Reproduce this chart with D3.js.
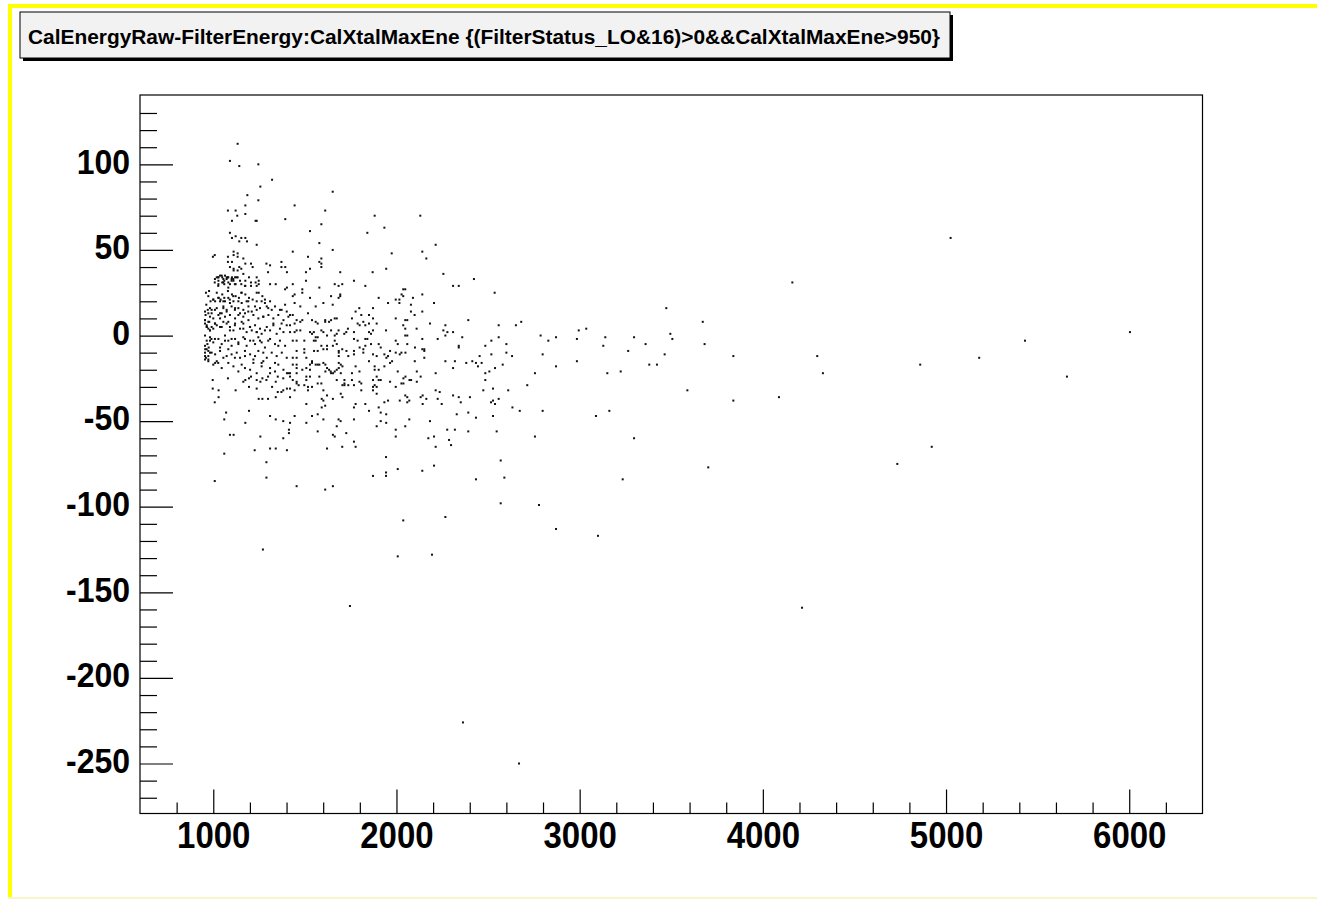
<!DOCTYPE html>
<html>
<head>
<meta charset="utf-8">
<script src="https://cdn.jsdelivr.net/npm/d3@7"></script>
<style>
  body { margin: 0; background: #fff; }
  svg text { font-family: "Liberation Sans", Arial, Helvetica, sans-serif; font-weight: bold; }
</style>
</head>
<body>
<div id="chart"></div>
<script>
// CalEnergyRaw-FilterEnergy vs CalXtalMaxEne scatter (ROOT style, D3 v7)

const title = 'CalEnergyRaw-FilterEnergy:CalXtalMaxEne {(FilterStatus_LO&16)>0&&CalXtalMaxEne>950}';
const xTicks = [1000, 2000, 3000, 4000, 5000, 6000];
const yTicks = [-250, -200, -150, -100, -50, 0, 50, 100];

// [CalXtalMaxEne, CalEnergyRaw-FilterEnergy]
const coreUpper = [
  [1133,112],[1091,102],[1142,99],[1246,100],[1321,91],[1257,87],[1186,82],[1246,79],
  [1175,76],[1080,73],[1122,73],[1175,71],[1131,70],[1102,67],[1231,67],[1237,67],[1393,68],
  [1091,60],[1122,58],[1102,57],[1153,57],[1175,57],[1142,55],[1184,55],[1237,53],
  [1008,47],[998,46],[1111,49],[1111,47],[1133,48],[1133,46],[1080,46],[1080,43],[1102,43],[1164,45],
  [1175,42],[1206,42],[1215,40],[1142,40],[1153,39],[1111,39],[1091,40],[1111,38],[1133,38],
  [1290,42],[1310,41],[1299,37],[1372,43],[1372,40],[1393,40],[1402,37],
  [1019,34],[1049,34],[1060,32],[1080,34],[1102,34],[1133,34],[1164,36],[1175,32],[1195,34],
  [1206,31],[1237,34],[1231,31],[1248,32],[1008,31],[1049,31],[1060,30],[1122,30],[1153,30],
  [1175,29],[1206,29],[1237,29],[1248,30],
  [1028,34],[1028,32],[1028,30],[1037,35],[1046,35],[1055,33],[1064,35],[1073,34],[1082,31],
  [1091,30],[1100,33],[1110,32],[1119,34],
  [977,26],[1019,25],[1030,22],[1049,24],[1060,22],[1080,26],[1102,24],[1122,23],[1153,25],
  [1175,24],[1195,22],[1248,25],[1268,23],[1310,30],[1341,30],[1402,28],[1392,27],[1000,21],
  [1040,21],[1090,21],[1140,22],[1215,21]
];

const coreDense = [
  [1009,33],[1027,34],[1055,31],[1073,33],[1082,34],[1100,32],[1109,33],[1127,34],[1146,32],
  [1173,29],[1027,29],[1082,28],[1118,30],
  [973,23],[1000,21],[1027,22],[1064,20],[1082,22],[1109,23],[1155,25],[1191,20],[1237,25],[1282,21],
  [955,14],[982,16],[991,13],[1009,15],[1037,13],[1055,16],[1073,14],[1118,15],[1137,16],
  [1173,13],[1191,14],[1228,17],[1273,11],[1300,16],[1373,15],
  [955,9],[973,8],[964,5],[982,3],[1000,4],[1009,7],[1037,10],[1046,5],[1082,8],[1091,3],
  [1118,6],[1155,8],[1164,4],[1200,5],[1237,2],[1282,3],[1328,6],[1373,7],
  [955,-6],[964,-8],[973,-9],[982,-3],[1009,-2],[1037,-7],[1064,-3],[1100,-2],[1137,-5],
  [1173,-2],[1219,-3],[1255,-3],[1300,-3],[1355,-6],
  [955,-12],[973,-14],[991,-10],[1000,-17],[1027,-16],[1073,-12],[1118,-13],[1173,-12],
  [1219,-14],[1264,-16],[1337,-16]
];

const coreLower = [
  [1010,20],[1037,20],[1055,20],[1091,19],[1110,20],[1137,20],[1155,19],[1182,20],[1237,20],
  [1264,20],[1282,19],[1310,20],[1337,17],[1392,18],[991,15],[1019,16],[1055,17],[1073,15],
  [1100,17],[1119,16],[1146,13],[1164,15],[1192,17],[1210,14],[1237,15],[1255,16],[1292,17],
  [1319,15],[1364,15],[1401,14],
  [973,13],[982,11],[1000,10],[1028,12],[1046,13],[1064,11],[1091,12],[1119,10],[1137,12],
  [1164,11],[1192,9],[1219,12],[1246,10],[1273,11],[1301,12],[1328,10],[1355,12],[1383,9],[1410,11],
  [955,9],[955,7],[964,6],[973,4],[982,3],[991,5],[1010,7],[1019,6],[1037,5],[1055,8],[1073,7],
  [1091,5],[1110,3],[1119,7],[1146,4],[1164,7],[1182,2],[1201,5],[1210,3],[1228,6],[1237,2],
  [1255,4],[1264,1],[1292,5],[1310,3],[1328,7],[1346,1],[1364,4],[1383,2],[1401,6],
  [955,0],[964,-3],[982,-1],[1000,-4],[1028,-2],[1046,-5],[1064,0],[1082,-3],[1100,-6],[1119,-2],
  [1137,-4],[1164,-1],[1182,-6],[1201,-3],[1228,-5],[1246,-1],[1264,-4],[1282,-7],[1310,-2],
  [1337,-5],[1364,-3],[1392,-6],
  [956,-8],[955,-10],[973,-12],[982,-10],[1010,-11],[1037,-9],[1055,-13],[1082,-8],[1100,-11],
  [1128,-10],[1146,-13],[1173,-9],[1201,-11],[1228,-12],[1246,-9],[1273,-10],[1292,-13],
  [1319,-10],[1346,-12],[1374,-10],[1401,-13],
  [955,-14],[973,-15],[1010,-16],[1019,-15],[1046,-19],[1082,-16],[1110,-18],[1137,-21],
  [1155,-17],[1173,-19],[1201,-20],[1219,-16],[1237,-22],[1264,-18],[1273,-15],[1310,-19],
  [1337,-21],[1355,-17],[1383,-20],[1410,-22],
  [960,25],[962,18],[958,12],[965,5],[968,-5],[960,-13],[975,-7],[985,20],[990,-2],[970,15],[978,8],
  [997,-26],[997,-31],[1029,-32],[1029,-36],[1008,-39],[1080,-25],[1122,-32],[1164,-27],
  [1175,-26],[1195,-25],[1206,-24],[1237,-26],[1257,-27],[1268,-25],[1290,-26],[1299,-24],
  [1310,-22],[1195,-30],[1237,-31],[1268,-37],[1299,-37],[1248,-37],[1341,-36],[1352,-33],
  [1372,-33],[1382,-32],[1402,-31],[1321,-30],[1341,-27],[1352,-24],[1382,-25],[1402,-22],
  [1070,-45],[1060,-49],[1195,-44],[1175,-51],[1091,-58],[1111,-58],[1257,-59],[1310,-66],
  [1341,-66],[1226,-67],[1402,-67],[1060,-69],[1290,-74],[1008,-85],[1290,-83],[1382,-60],
  [1413,-55],[1413,-57],[1341,-49],[1310,-47],[1382,-50],[1271,-125]
];

const midUpper = [
  [1652,84],[1444,76],[1611,73],[1881,70],[2130,70],[1934,63],[1841,60],[1528,61],[1590,65],
  [1579,54],[1652,50],[2214,53],[2141,49],[2163,45],[1974,48],[1944,39],[1434,49],[1517,46],
  [1590,45],[1579,43],[1590,42],[1590,40],[1506,37],[1528,39],[1693,37],[1870,37],[2256,36],
  [2423,33],[1434,30],[1506,32],[1663,30],[1704,30],[1684,29],[1768,32],[1830,29],[1579,28],
  [2309,29],[2340,29],[2536,25],[2681,8],[2652,6],[2558,6],[2392,9],[2183,7],[2359,-1],[2558,-1],
  [2518,-3],[2485,-6],[2600,-5],[2787,0],[2829,-3],[2871,-1],[2340,-6],[2340,-7],[2267,6],
  [2256,3],[2278,2],[2267,0],[2309,2],[2225,-2],[2141,-2],[2141,-8],[2101,-7],[2059,0],[2059,-5],
  [2110,4],[2141,14],[2141,24],[2099,12],[2079,18],[2079,14],[2090,22],[2205,19],[2037,27],
  [2048,27],[2028,24],[2037,23],[2016,21],[1996,21],[2016,19],[1954,19],[1903,22],[2048,9],
  [2059,9],[2048,4],[2037,6],[1996,10],[1943,3],[1892,7],[1872,16],[1850,12],[1643,23],[1693,24],
  [1693,23],[1684,22],[1601,19],[1652,18],[1528,22],[1486,27],[1486,25],[1444,24],[1434,23],
  [1444,19],[1475,17],[1517,13],[1559,17],[1777,14],[1797,16],[1808,12],[1757,10],[1872,10],
  [1850,7],[1830,6],[1788,7],[1819,8],[1735,4],[1726,2],[1715,1],[1996,-3],[2007,-5],[2048,0],
  [1903,-5],[1914,-7],[1872,3],[1850,2],[1861,1],[1830,-2],[1841,-2],[1788,-3],[1799,-7],
  [1819,-8],[1830,-6],[1861,-5],[1768,-2],[1768,2],[1799,6],[1704,-8],[1653,-6],[1674,-5],
  [1663,-3],[1663,0],[1674,1],[1684,3],[1621,0],[1621,-6],[1621,-8],[1643,3],[1643,9],[1663,10],
  [1674,10],[1611,9],[1632,8],[1611,8],[1590,3],[1601,2],[1570,7],[1559,8],[1539,9],[1528,2],
  [1539,1],[1549,2],[1559,-1],[1570,-1],[1549,-3],[1559,-3],[1590,-6],[1601,-8],[1497,-3],
  [1497,-8],[1475,3],[1455,3],[1444,7],[1444,2],[1419,6],[1419,2],[1434,12],[1419,12],[1455,9],
  [1475,8],[1486,9],[1434,-3],[1455,-3],[2152,-8]
];

const midLower = [
  [1455,-9],[1497,-10],[1550,-9],[1570,-9],[1685,-9],[1685,-10],[1727,-9],[1768,-9],[1819,-10],
  [1965,-9],[1996,-10],[2018,-11],[2027,-10],[2049,-10],[2152,-9],
  [1685,-12],[1737,-12],[1768,-11],[1872,-11],[1892,-12],[1934,-11],[1954,-12],
  [1434,-13],[1455,-13],[1508,-13],[1539,-15],[1601,-16],[1559,-17],[1570,-17],[1579,-17],
  [1685,-16],[1696,-17],[1705,-18],[1850,-15],[1945,-13],[1976,-15],[2100,-15],[2152,-13],
  [1434,-17],[1455,-17],[1455,-19],[1486,-20],[1508,-19],[1528,-20],[1528,-17],[1539,-16],
  [1612,-17],[1621,-19],[1632,-20],[1641,-21],[1654,-22],[1663,-21],[1674,-20],[1685,-19],
  [1777,-18],[1881,-18],[1934,-18],[1965,-16],[1881,-20],[1903,-20],[1798,-21],[1757,-22],[1696,-22],
  [1419,-22],[1419,-24],[1455,-22],[1508,-24],[1528,-24],[1579,-24],[1612,-21],[1643,-22],
  [1757,-26],[1674,-26],[1716,-26],[1892,-24],[1872,-26],[1903,-26],[1914,-26],[2007,-21],
  [2049,-24],[2038,-25],[2071,-26],[2080,-26],[2111,-27],[2111,-21],[2132,-24],[1965,-27],
  [1434,-26],[1455,-27],[1455,-28],[1466,-29],[1497,-29],[1508,-26],[1517,-30],[1517,-32],
  [1539,-30],[1570,-28],[1590,-28],[1601,-32],[1716,-28],[1705,-29],[1716,-29],[1737,-29],
  [1768,-29],[1808,-28],[1798,-27],[1872,-30],[1881,-29],[1892,-30],[1872,-32],[1892,-34],
  [1996,-30],[2027,-28],[2038,-28],[1419,-31],[1444,-32],[1419,-36],[1621,-35],[1696,-34],
  [1705,-36],[1808,-32],
  [2267,-15],[2319,-15],[2309,-19],[2381,-16],[2414,-15],[2434,-16],[2454,-12],[2465,-16],
  [2445,-18],[2518,-11],[2600,-10],[2631,-12],[2798,-11],[2871,-18],[2580,-17],[2538,-19],
  [2507,-21],[2485,-22],[2485,-26],[2756,-22],[2714,-29],[2214,-22],[2474,-32],[2527,-31],
  [2610,-32],[2558,-37],[2527,-38],[2516,-39],[2538,-40],[2401,-36],[2351,-39],[2340,-36],
  [2309,-35],[2633,-42],[2673,-44],[2798,-44],[2392,-45],[2329,-46],[2434,-48],[2527,-47],
  [2277,-55],[2319,-55],[2392,-56],[2547,-56],[2756,-59],[2205,-59],[2174,-60],[2287,-61],
  [2298,-64],[2214,-65],[2569,-73],[2205,-76],[2141,-79],[2434,-84],[2589,-83],[2569,-98],
  [2778,-99],[2871,-113],[2267,-106],[2037,-108],[2194,-128],[2007,-129],[1746,-158],
  [1943,-71],[2007,-78],[1943,-80],[1943,-82],[1872,-82],[1455,-88],[1611,-90],[1653,-88],
  [1621,-66],[1704,-65],[1768,-62],[1777,-65],[1726,-57],[1653,-58],[1663,-59],[1570,-56],
  [1674,-53],[1996,-55],[1996,-59],[2048,-53],[1892,-53],[1944,-51],[1914,-50],[2070,-49],
  [2183,-50],[1508,-51],[1419,-51],[1601,-49],[1684,-49],[1695,-50],[1768,-49],[1903,-42],
  [1914,-45],[1944,-46],[1850,-44],[1768,-42],[1777,-40],[1830,-40],[1934,-39],[1954,-38],
  [2018,-38],[2059,-39],[2070,-38],[2143,-40],[2163,-37],[2225,-37],[2247,-40],[2048,-35],
  [2059,-36],[2132,-36],[2143,-35],[2214,-32],[2236,-33],[1539,-47],[1570,-46],[1444,-47],
  [1508,-40],[1592,-37],[1601,-38],[1592,-42],[1611,-41],[1653,-37]
];

const tail = [
  [5025,57],[6004,2],[5431,-3],[5181,-13],[4859,-17],[5660,-24],[4922,-65],[4734,-75],
  [4161,31],[3473,16],[3672,8],[2995,3],[3036,4],[2985,-2],[3140,-1],[3297,-1],[3129,-6],
  [3360,-5],[3495,1],[3506,-2],[3682,-5],[3265,-9],[2985,-15],[3464,-11],[3380,-17],[3422,-17],
  [3839,-12],[4297,-12],[4328,-22],[3151,-22],[3224,-21],[3588,-32],[3839,-38],[4088,-36],
  [3162,-44],[3089,-47],[3297,-60],[3702,-77],[3235,-84],[3100,-117],[4214,-159],
  [2363,-226],[2669,-250]
];

const events = [...coreUpper, ...coreDense, ...coreLower, ...midUpper, ...midLower, ...tail];

const width = 1317;
const height = 901;
const frame = { left: 140, top: 95, right: 1202.5, bottom: 813.5 };

const svg = d3.select('#chart')
  .append('svg')
  .attr('width', width)
  .attr('height', height);

// canvas border (yellow edges)
svg.append('rect').attr('x', 0).attr('y', 0).attr('width', width).attr('height', height).attr('fill', '#fff');
svg.append('rect').attr('x', 8).attr('y', 4).attr('width', width - 8).attr('height', 4).attr('fill', '#ffff00');
svg.append('rect').attr('x', 8).attr('y', 4).attr('width', 4).attr('height', 895).attr('fill', '#ffff00');
svg.append('rect').attr('x', 8).attr('y', 897).attr('width', width - 8).attr('height', 2).attr('fill', '#f6f6c8');

const x = d3.scaleLinear().domain([600, 6400]).range([frame.left, frame.right]);
const y = d3.scaleLinear().domain([-279.2, 140.5]).range([frame.bottom, frame.top]);

// points
svg.append('g')
  .selectAll('rect')
  .data(events)
  .join('rect')
  .attr('x', d => x(d[0]) - 1)
  .attr('y', d => y(d[1]) - 1)
  .attr('width', 2)
  .attr('height', 2)
  .attr('fill', '#111');

// frame
svg.append('rect')
  .attr('x', frame.left)
  .attr('y', frame.top)
  .attr('width', frame.right - frame.left)
  .attr('height', frame.bottom - frame.top)
  .attr('fill', 'none')
  .attr('stroke', '#000')
  .attr('stroke-width', 1.2);

// ticks point inward, like ROOT
const xMinor = d3.range(800, 6400, 200).filter(v => v % 1000 !== 0);
const yMinor = d3.range(-270, 140, 10).filter(v => v % 50 !== 0);
const plain = d => String(d); // ASCII hyphen for negatives

const xAxisG = svg.append('g').attr('transform', `translate(0,${frame.bottom})`);
xAxisG.call(d3.axisBottom(x).tickValues(xMinor).tickSize(-11).tickFormat(''));
xAxisG.append('g').call(d3.axisBottom(x).tickValues(xTicks).tickSize(-24).tickPadding(8).tickFormat(plain));
xAxisG.selectAll('.domain').remove();
xAxisG.selectAll('line').attr('stroke', '#000').attr('stroke-width', 1.2);
xAxisG.selectAll('text')
  .attr('fill', '#000')
  .attr('transform', 'scale(1,1.1)')
  .style('font-size', '33px');

const yAxisG = svg.append('g').attr('transform', `translate(${frame.left},0)`);
yAxisG.call(d3.axisLeft(y).tickValues(yMinor).tickSize(-17).tickFormat(''));
yAxisG.append('g').call(d3.axisLeft(y).tickValues(yTicks).tickSize(-33).tickPadding(10).tickFormat(plain));
yAxisG.selectAll('.domain').remove();
yAxisG.selectAll('line').attr('stroke', '#000').attr('stroke-width', 1.2);
yAxisG.selectAll('text')
  .attr('fill', '#000')
  .attr('transform', 'scale(1,1.1)')
  .attr('dy', '0.25em')
  .style('font-size', '32px');

// title box with shadow
const tb = { x: 20, y: 12, w: 930, h: 46 };
svg.append('rect').attr('x', tb.x + 3).attr('y', tb.y + 3).attr('width', tb.w).attr('height', tb.h).attr('fill', '#000');
svg.append('rect').attr('x', tb.x).attr('y', tb.y).attr('width', tb.w).attr('height', tb.h)
  .attr('fill', '#f2f2f2').attr('stroke', '#000').attr('stroke-width', 1);
svg.append('text')
  .attr('x', 28)
  .attr('y', 44)
  .attr('textLength', 912)
  .attr('lengthAdjust', 'spacingAndGlyphs')
  .style('font-size', '21px')
  .attr('fill', '#000')
  .text(title);
</script>
</body>
</html>
